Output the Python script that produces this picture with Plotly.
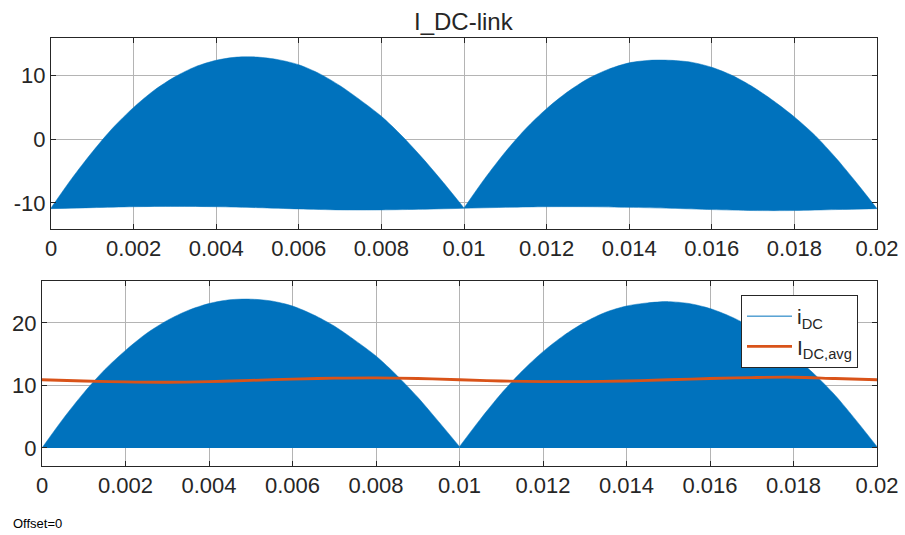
import plotly.graph_objects as go

# sample times (s) for the envelopes
t_env = [0.0, 0.0005, 0.001, 0.0015, 0.002, 0.0025, 0.003, 0.0035, 0.004, 0.0045,
         0.005, 0.0055, 0.006, 0.0065, 0.007, 0.0075, 0.008, 0.0085, 0.009, 0.0095,
         0.01, 0.0105, 0.011, 0.0115, 0.012, 0.0125, 0.013, 0.0135, 0.014, 0.0145,
         0.015, 0.0155, 0.016, 0.0165, 0.017, 0.0175, 0.018, 0.0185, 0.019, 0.0195, 0.02]

# top panel: upper envelope of the switched DC-link current (AC part)
top_upper = [-10.8, -6.2, -2.0, 1.8, 5.0, 7.7, 9.8, 11.4, 12.4, 12.9,
             12.9, 12.5, 11.7, 10.3, 8.4, 6.1, 3.6, 0.5, -3.0, -6.8,
             -10.8, -6.2, -2.0, 1.7, 4.8, 7.4, 9.5, 11.0, 12.0, 12.4,
             12.4, 12.1, 11.3, 10.0, 8.2, 6.0, 3.5, 0.6, -2.9, -6.8, -10.9]

t_avg = [0.0, 0.001, 0.002, 0.003, 0.004, 0.005, 0.006, 0.007, 0.008, 0.009, 0.01,
         0.011, 0.012, 0.013, 0.014, 0.015, 0.016, 0.017, 0.018, 0.019, 0.02]

# top panel: lower envelope
top_lower = [-10.9, -10.75, -10.6, -10.55, -10.6, -10.75, -10.95, -11.1, -11.1, -11.0, -10.85,
             -10.7, -10.6, -10.6, -10.7, -10.85, -11.05, -11.2, -11.2, -11.05, -10.9]

# bottom panel: upper envelope of i_DC
bot_upper = [0.0, 4.6, 8.8, 12.5, 15.6, 18.3, 20.4, 22.0, 23.1, 23.7,
             23.8, 23.5, 22.7, 21.3, 19.5, 17.2, 14.7, 11.6, 8.1, 4.2,
             0.2, 4.6, 8.7, 12.3, 15.4, 18.0, 20.1, 21.7, 22.7, 23.2,
             23.4, 23.1, 22.3, 21.0, 19.3, 17.2, 14.7, 11.8, 8.4, 4.4, 0.2]

# bottom panel: averaged DC current
i_avg = [10.9, 10.7, 10.55, 10.5, 10.6, 10.8, 11.0, 11.15, 11.2, 11.1, 10.9,
         10.7, 10.6, 10.6, 10.7, 10.9, 11.1, 11.25, 11.3, 11.1, 10.9]

x_ticks = [0, 0.002, 0.004, 0.006, 0.008, 0.01, 0.012, 0.014, 0.016, 0.018, 0.02]
x_tick_text = ["0", "0.002", "0.004", "0.006", "0.008", "0.01", "0.012", "0.014", "0.016", "0.018", "0.02"]
top_yticks = [-10, 0, 10]
bot_yticks = [0, 10, 20]

BLUE = "#0072BD"
ORANGE = "#D95319"
AX = "#262626"
GRID = "#b4b4b4"
FONT = "Liberation Sans, Arial, Helvetica, sans-serif"

fig = go.Figure()

env_line = dict(color=BLUE, width=0.5, shape="spline", smoothing=0.8)

# the two half-waves are drawn separately so the cusp at 0.01 stays sharp
halves_env = [slice(0, 21), slice(20, 41)]
halves_avg = [slice(0, 11), slice(10, 21)]

# top panel
for se, sa in zip(halves_env, halves_avg):
    fig.add_trace(go.Scatter(x=t_avg[sa], y=top_lower[sa], mode="lines", line=env_line,
                             showlegend=False, xaxis="x", yaxis="y", hoverinfo="skip"))
    fig.add_trace(go.Scatter(x=t_env[se], y=top_upper[se], mode="lines", line=env_line,
                             fill="tonexty", fillcolor=BLUE, showlegend=False,
                             xaxis="x", yaxis="y"))

# bottom panel
for se in halves_env:
    fig.add_trace(go.Scatter(x=t_env[se], y=bot_upper[se], mode="lines", line=env_line,
                             fill="tozeroy", fillcolor=BLUE, showlegend=False,
                             xaxis="x2", yaxis="y2"))
fig.add_trace(go.Scatter(x=[None], y=[None], mode="lines", line=dict(color=BLUE, width=1),
                         name="i<sub>DC</sub>", xaxis="x2", yaxis="y2"))
fig.add_trace(go.Scatter(x=t_avg, y=i_avg, mode="lines",
                         line=dict(color=ORANGE, width=2.8, shape="spline"),
                         name="I<sub>DC,avg</sub>", xaxis="x2", yaxis="y2"))

W, H = 905, 535
def px_dom_x(a, b):
    return [a / W, b / W]
def px_dom_y(top, bottom):
    return [1 - bottom / H, 1 - top / H]

common_x = dict(range=[0, 0.02], tickvals=x_ticks, ticktext=x_tick_text, showgrid=True,
                gridcolor=GRID, gridwidth=1, showline=True, linecolor=AX, linewidth=1,
                mirror="ticks", ticks="inside", ticklen=5, tickcolor=AX, automargin=False,
                tickfont=dict(family=FONT, size=22, color=AX), zeroline=False)
common_y = dict(showgrid=True, gridcolor=GRID, gridwidth=1, showline=True, linecolor=AX,
                linewidth=1, mirror="ticks", ticks="inside", ticklen=5, tickcolor=AX,
                automargin=False,
                tickfont=dict(family=FONT, size=22, color=AX), zeroline=False)

fig.update_layout(
    template="none",
    width=W, height=H,
    margin=dict(l=0, r=0, t=0, b=0, autoexpand=False),
    paper_bgcolor="white", plot_bgcolor="white",
    xaxis=dict(domain=px_dom_x(51, 877), anchor="y", **common_x),
    yaxis=dict(domain=px_dom_y(38, 229), anchor="x", range=[-14.1, 15.9],
               tickvals=top_yticks, ticktext=["-10", "0", "10"], **common_y),
    xaxis2=dict(domain=px_dom_x(42, 877), anchor="y2", **common_x),
    yaxis2=dict(domain=px_dom_y(281, 466), anchor="x2", range=[-2.9, 26.7],
                tickvals=bot_yticks, ticktext=["0", "10", "20"], **common_y),
    legend=dict(x=741 / W, y=1 - 295 / H, xanchor="left", yanchor="top",
                traceorder="normal", itemwidth=45,
                bgcolor="white", bordercolor=AX, borderwidth=1,
                font=dict(family=FONT, size=21, color=AX), tracegroupgap=0),
    showlegend=True,
    annotations=[
        dict(text="I_DC-link", x=464 / W, y=1 - 21 / H, xref="paper", yref="paper",
             xanchor="center", yanchor="middle", showarrow=False,
             font=dict(family=FONT, size=24, color=AX)),
        dict(text="Offset=0", x=11 / W, y=1 - 523 / H, xref="paper", yref="paper",
             xanchor="left", yanchor="middle", showarrow=False,
             font=dict(family=FONT, size=13, color="#000000")),
    ],
)

fig.write_html("out.html")
